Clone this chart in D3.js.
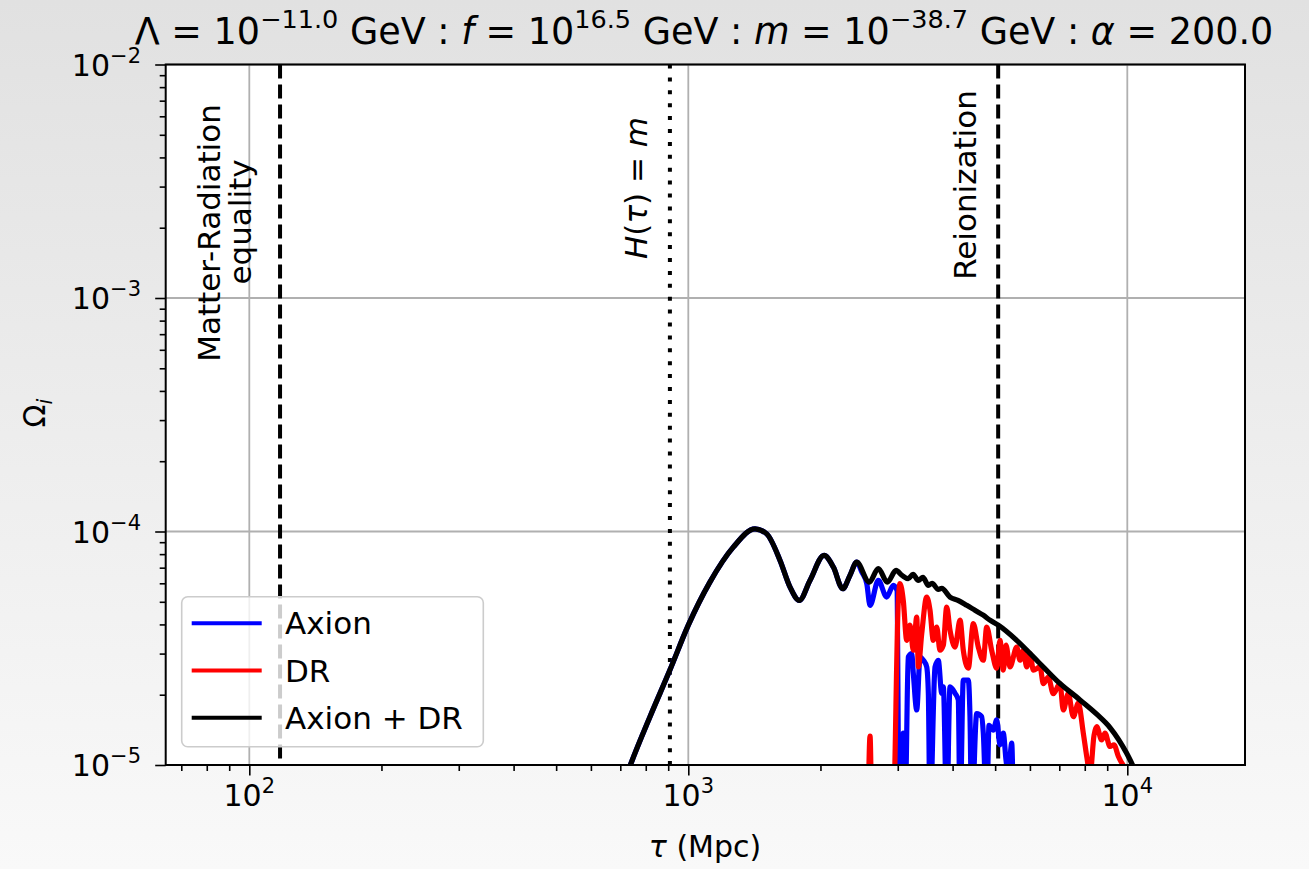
<!DOCTYPE html>
<html>
<head>
<meta charset="utf-8">
<script src="https://cdn.jsdelivr.net/npm/d3@7"></script>
<style>
body { margin: 0; }
svg { display: block; font-family: "DejaVu Sans", sans-serif; white-space: pre; }
</style>
</head>
<body>
<script>
// conformal time tau (Mpc) and energy fraction Omega_i

// Axion + DR (black)
var totalTau = [729, 741, 818, 908, 1000, 1120, 1266, 1419, 1509, 1618, 1705, 1790, 1893, 2038, 2140, 2248, 2335, 2418, 2584, 2709,
                2840, 2973, 3068, 3170, 3250, 3342, 3424, 3522, 3591, 3711, 3779, 3946, 4115, 4308, 4498, 4699, 4866, 5084, 5598, 6218,
                6907, 7802, 8517, 9132, 9968, 10360];
var totalOmega = [9.4e-6, 1.02e-5, 1.61e-5, 2.55e-5, 3.97e-5, 6.07e-5, 8.57e-5, 1.027e-4, 9.77e-5, 7.52e-5, 5.78e-5, 5.07e-5, 6.17e-5, 7.9e-5, 7.04e-5, 5.69e-5, 6.49e-5, 7.39e-5, 6.07e-5, 6.93e-5,
                  6.07e-5, 6.81e-5, 6.49e-5, 6.28e-5, 6.55e-5, 6.17e-5, 6.36e-5, 5.88e-5, 6.00e-5, 5.65e-5, 5.71e-5, 5.24e-5, 5.07e-5, 4.83e-5, 4.60e-5, 4.38e-5, 4.17e-5, 3.97e-5, 3.42e-5, 2.81e-5,
                  2.30e-5, 1.90e-5, 1.65e-5, 1.446e-5, 1.122e-5, 9.7e-6];

// Axion (blue)
var axionTau = [729, 741, 818, 908, 1000, 1120, 1266, 1419, 1509, 1618, 1705, 1790, 1893, 2038, 2140, 2248, 2335, 2418,
                2487, 2550, 2594, 2709, 2831, 2931, 2988, 3021, 3051, 3088, 3124, 3170, 3228, 3255, 3314, 3372, 3431, 3492, 3522, 3553,
                3648, 3711, 3778, 3810, 3878, 3946, 4051, 4121, 4159, 4231, 4343, 4382, 4421, 4539, 4659, 4699, 4783, 4842, 4952, 5041,
                5129, 5218, 5293, 5357, 5454, 5500];
var axionOmega = [9.4e-6, 1.02e-5, 1.61e-5, 2.55e-5, 3.97e-5, 6.07e-5, 8.57e-5, 1.027e-4, 9.77e-5, 7.52e-5, 5.78e-5, 5.07e-5, 6.17e-5, 7.9e-5, 7.04e-5, 5.69e-5, 6.49e-5, 7.39e-5,
                  6.68e-5, 5.98e-5, 4.83e-5, 6.17e-5, 5.24e-5, 5.88e-5, 5.60e-5, 6e-6, 6e-6, 1.37e-5, 8e-6, 2.90e-5, 3.00e-5, 2.47e-5, 1.72e-5, 2.90e-5, 2.81e-5, 2.63e-5, 2.03e-5, 6e-6,
                  2.63e-5, 2.81e-5, 2.03e-5, 2.16e-5, 6e-6, 2.16e-5, 2.03e-5, 1.90e-5, 6e-6, 2.31e-5, 2.31e-5, 1.61e-5, 6e-6, 1.66e-5, 1.61e-5, 1.37e-5, 6e-6, 1.48e-5, 1.41e-5, 1.56e-5,
                  1.22e-5, 1.37e-5, 1.05e-5, 9e-6, 1.24e-5, 6e-6];

// DR (red)
var drTau = [2567, 2594, 2622, 2927, 3009, 3035, 3088, 3144, 3199, 3255, 3314, 3342, 3402, 3492, 3553, 3615, 3680, 3744, 3810, 3878,
             3946, 4051, 4159, 4231, 4343, 4459, 4577, 4699, 4783, 4910, 5041, 5129, 5218, 5293, 5405, 5599, 5696, 5796, 5900, 6004,
             6109, 6327, 6438, 6607, 6783, 7025, 7148, 7338, 7534, 7733, 7939, 8094, 8222, 8398, 8517, 8743, 8896, 9134, 9326, 9539, 9968];
var drOmega = [6e-6, 1.33e-5, 6e-6, 6e-6, 5.07e-5, 5.98e-5, 5.07e-5, 3.42e-5, 3.97e-5, 3.10e-5, 4.30e-5, 2.63e-5, 3.65e-5, 5.24e-5, 4.60e-5, 3.42e-5, 3.90e-5, 3.10e-5, 3.26e-5, 4.75e-5,
               3.78e-5, 3.20e-5, 4.17e-5, 3.10e-5, 2.60e-5, 4.03e-5, 3.20e-5, 2.81e-5, 3.90e-5, 3.10e-5, 2.60e-5, 3.42e-5, 2.55e-5, 3.26e-5, 2.63e-5, 3.20e-5, 2.81e-5, 3.10e-5, 2.63e-5, 3.00e-5,
               2.55e-5, 2.63e-5, 2.23e-5, 2.38e-5, 2.02e-5, 2.23e-5, 1.72e-5, 2.02e-5, 1.61e-5, 1.84e-5, 1.37e-5, 1.07e-5, 9e-6, 1.34e-5, 1.46e-5, 1.28e-5, 1.37e-5, 1.20e-5, 1.22e-5, 1.09e-5, 9.5e-6];

// vertical markers
var markerTau = [117.5, 908, 5080];
var markerDash = ["14,6", "4,8.9", "14,6"];

var legendNames = ["Axion", "DR", "Axion + DR"];
var seriesColors = ["#0000ff", "#ff0000", "#000000"];

var xMajor = [100, 1000, 10000];
var xMajorExp = ["2", "3", "4"];
var yMajor = [1e-5, 1e-4, 1e-3, 1e-2];
var yMajorExp = ["\u22125", "\u22124", "\u22123", "\u22122"];

var W = 1309, H = 869;
var pLeft = 165.7, pRight = 1245, pTop = 64.5, pBottom = 765;

var svg = d3.select("body").append("svg").attr("width", W).attr("height", H);

// page background, a soft grey fade
var defs = svg.append("defs");
var grad = defs.append("linearGradient").attr("id", "bg").attr("x1", 0).attr("y1", 0).attr("x2", 0).attr("y2", 1);
grad.append("stop").attr("offset", "0%").attr("stop-color", "#e1e1e1");
grad.append("stop").attr("offset", "100%").attr("stop-color", "#f9f9f9");
svg.append("rect").attr("width", W).attr("height", H).attr("fill", "url(#bg)");

defs.append("clipPath").attr("id", "plot")
    .append("rect").attr("x", pLeft).attr("y", pTop).attr("width", pRight - pLeft).attr("height", pBottom - pTop);

var x = d3.scaleLog().domain([64.5, 18540]).range([pLeft, pRight]);
var y = d3.scaleLog().domain([1e-5, 1e-2]).range([pBottom, pTop]);

svg.append("rect").attr("x", pLeft).attr("y", pTop).attr("width", pRight - pLeft).attr("height", pBottom - pTop).attr("fill", "#fff");

// grid
svg.append("g").selectAll("line").data(xMajor).enter().append("line")
    .attr("x1", d => x(d)).attr("x2", d => x(d)).attr("y1", pTop).attr("y2", pBottom)
    .attr("stroke", "#b0b0b0").attr("stroke-width", 1.8);
svg.append("g").selectAll("line").data(yMajor).enter().append("line")
    .attr("y1", d => y(d)).attr("y2", d => y(d)).attr("x1", pLeft).attr("x2", pRight)
    .attr("stroke", "#b0b0b0").attr("stroke-width", 1.8);

var isMajor = v => Math.abs(Math.log10(v) - Math.round(Math.log10(v))) < 1e-9;

// ticks (major long, minor short)
function ticks(axisFn, scale, pos) {
  var all = scale.ticks();
  var g1 = svg.append("g").attr("transform", pos)
      .call(axisFn(scale).tickValues(all.filter(v => !isMajor(v))).tickSize(6).tickFormat(""));
  var g2 = svg.append("g").attr("transform", pos)
      .call(axisFn(scale).tickValues(all.filter(isMajor)).tickSize(10.5).tickFormat(""));
  [g1, g2].forEach(g => {
    g.select(".domain").remove();
    g.selectAll("line").attr("stroke", "#000").attr("stroke-width", 1.6);
  });
}
ticks(d3.axisBottom, x, "translate(0," + pBottom + ")");
ticks(d3.axisLeft, y, "translate(" + pLeft + ",0)");

// helper to write text with superscripts / italics
function rich(sel, parts, size) {
  var cur = 0;
  parts.forEach(function (p) {
    var off = p.sup ? -0.43 * size : (p.sub ? 0.22 * size : 0);
    sel.append("tspan")
      .attr("dy", off - cur)
      .attr("font-size", (p.sup || p.sub) ? size * 0.7 : size)
      .attr("font-style", p.it ? "italic" : "normal")
      .text(p.t);
    cur = off;
  });
}

// tick labels
xMajor.forEach(function (v, i) {
  var t = svg.append("text").attr("x", x(v)).attr("y", 806).attr("text-anchor", "middle");
  rich(t, [{t: "10"}, {t: xMajorExp[i], sup: true}], 30);
});
yMajor.forEach(function (v, i) {
  var t = svg.append("text").attr("x", 141).attr("y", y(v) + 11).attr("text-anchor", "end");
  rich(t, [{t: "10"}, {t: yMajorExp[i], sup: true}], 30);
});

// vertical reference lines
svg.append("g").selectAll("line").data(markerTau).enter().append("line")
    .attr("x1", d => x(d)).attr("x2", d => x(d)).attr("y1", pTop).attr("y2", pBottom)
    .attr("stroke", "#000").attr("stroke-width", 4)
    .attr("stroke-dasharray", (d, i) => markerDash[i]);

// series
var line = d3.line().x(d => x(d[0])).y(d => y(d[1])).curve(d3.curveMonotoneX);
var plot = svg.append("g").attr("clip-path", "url(#plot)");
var series = [
  [axionTau, axionOmega],
  [drTau, drOmega],
  [totalTau, totalOmega]
];
series.forEach(function (s, i) {
  var pts = s[0].map((t, j) => [t, s[1][j]]);
  plot.append("path").attr("d", line(pts))
    .attr("fill", "none").attr("stroke", seriesColors[i]).attr("stroke-width", 5.2)
    .attr("stroke-linejoin", "round").attr("stroke-linecap", "butt");
});

// frame
svg.append("rect").attr("x", pLeft).attr("y", pTop).attr("width", pRight - pLeft).attr("height", pBottom - pTop)
  .attr("fill", "none").attr("stroke", "#000").attr("stroke-width", 2);

// marker labels
function vtext(xc, yc, parts, size) {
  var t = svg.append("text").attr("text-anchor", "middle")
    .attr("transform", "translate(" + xc + "," + yc + ") rotate(-90)");
  rich(t, parts, size);
}
vtext(220, 233, [{t: "Matter-Radiation"}], 31);
vtext(251, 222, [{t: "equality"}], 31);
vtext(647, 188, [{t: "H", it: true}, {t: "("}, {t: "\u03c4", it: true}, {t: ") = "}, {t: "m", it: true}], 31);
vtext(976, 185, [{t: "Reionization"}], 31);

// title
var title = svg.append("text").attr("x", 704).attr("y", 44).attr("text-anchor", "middle");
rich(title, [
  {t: "\u039b = 10"}, {t: "\u221211.0", sup: true}, {t: " GeV : "}, {t: "f", it: true},
  {t: " = 10"}, {t: "16.5", sup: true}, {t: " GeV : "}, {t: "m", it: true},
  {t: " = 10"}, {t: "\u221238.7", sup: true}, {t: " GeV : "}, {t: "\u03b1", it: true},
  {t: " = 200.0"}
], 36.5);

// axis labels
var xl = svg.append("text").attr("x", 705).attr("y", 857).attr("text-anchor", "middle");
rich(xl, [{t: "\u03c4", it: true}, {t: " (Mpc)"}], 30);
var yl = svg.append("text").attr("text-anchor", "middle").attr("transform", "translate(45,413) rotate(-90)");
rich(yl, [{t: "\u03a9"}, {t: "i", it: true, sub: true}], 30);

// legend
var lg = svg.append("g");
lg.append("rect").attr("x", 181.7).attr("y", 596.7).attr("width", 301.6).attr("height", 150).attr("rx", 6)
  .attr("fill", "#fff").attr("fill-opacity", 0.8).attr("stroke", "#cccccc").attr("stroke-width", 1.6);
legendNames.forEach(function (n, i) {
  var yy = 623.3 + i * 47.2;
  lg.append("line").attr("x1", 191.7).attr("x2", 261.7).attr("y1", yy).attr("y2", yy)
    .attr("stroke", seriesColors[i]).attr("stroke-width", 4);
  lg.append("text").attr("x", 285).attr("y", yy + 11).attr("font-size", 31).text(n);
});
</script>
</body>
</html>
